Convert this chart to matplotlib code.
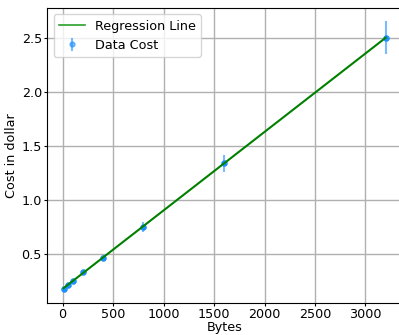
import matplotlib
matplotlib.use("Agg")
import matplotlib.pyplot as plt
import numpy as np

# values
bytes_x = [10, 50, 100, 200, 400, 800, 1600, 3200]
cost_y = [0.177, 0.207, 0.251, 0.326, 0.463, 0.747, 1.337, 2.50]
cost_err = [0.010, 0.012, 0.015, 0.020, 0.028, 0.045, 0.080, 0.150]

plt.rcParams['font.size'] = 9.2
plt.rcParams['xtick.major.size'] = 2
plt.rcParams['ytick.major.size'] = 2
plt.rcParams['xtick.major.pad'] = 1.5
plt.rcParams['ytick.major.pad'] = 2

fig = plt.figure(figsize=(3.99, 3.35), dpi=100)
ax = fig.add_axes([0.119, 0.0955, 0.888, 0.8806])

slope, intercept = np.polyfit(bytes_x, cost_y, 1)
fit = [slope * b + intercept for b in bytes_x]

ax.plot(bytes_x, fit, color='green', linewidth=1.5, label='Regression Line', zorder=3)
ax.errorbar(bytes_x, cost_y, yerr=cost_err, fmt='o', color='#1e90ff', markersize=3.5,
            ecolor='#1e90ff', elinewidth=1.5, alpha=0.6, label='Data Cost', zorder=2)
ax.plot(bytes_x, cost_y, 'o', color='#1e90ff', markersize=3.5, zorder=2.5)

ax.grid(True, color='#b0b0b0', linewidth=1)
ax.set_axisbelow(True)
ax.set_xlabel('Bytes', labelpad=0)
ax.set_ylabel('Cost in dollar', labelpad=2.5)
ax.set_yticks([0.5, 1.0, 1.5, 2.0, 2.5])
leg = ax.legend(loc='upper left')
leg.get_lines()[0].set_color('#2ca02c')
leg.get_lines()[0].set_linewidth(1.2)

plt.savefig('out.png', dpi=100)
